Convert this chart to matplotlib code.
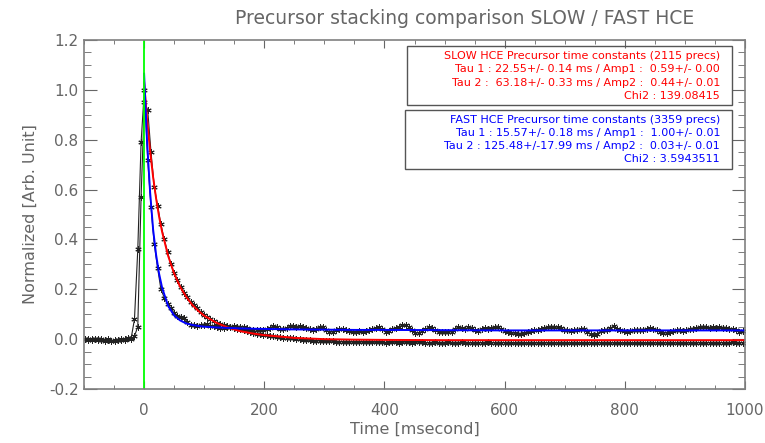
import numpy as np
import matplotlib
matplotlib.use('Agg')
import matplotlib.pyplot as plt
from matplotlib.ticker import MultipleLocator, FormatStrFormatter
from matplotlib.patches import Rectangle

# stacked precursor curves, sampled every t_step ms from t_first
t_first = -98.5
t_step = 5.5

fast_data = [
	0.002, 0.0, -0.003, 0.001, 0.0, -0.004, -0.002, 0.001, -0.006, -0.008,
	-0.004, 0.0, -0.002, 0.003, 0.004, 0.08, 0.36, 0.79, 1.0, 0.72,
	0.53, 0.38, 0.285, 0.20, 0.167, 0.14, 0.123, 0.105, 0.093, 0.088,
	0.085, 0.068, 0.057, 0.055, 0.053, 0.055, 0.058, 0.06, 0.054, 0.052,
	0.048, 0.045, 0.044, 0.048, 0.05, 0.052, 0.05, 0.048, 0.05, 0.045,
	0.038, 0.036, 0.038, 0.036, 0.036, 0.04, 0.046, 0.052, 0.047, 0.04,
	0.042, 0.045, 0.052, 0.053, 0.05, 0.052, 0.05, 0.044, 0.04, 0.035,
	0.042, 0.05, 0.048, 0.036, 0.028, 0.03, 0.036, 0.04, 0.04, 0.036,
	0.033, 0.03, 0.03, 0.032, 0.03, 0.031, 0.036, 0.04, 0.045, 0.047,
	0.04, 0.03, 0.034, 0.04, 0.045, 0.05, 0.056, 0.055, 0.05, 0.036,
	0.026, 0.025, 0.032, 0.04, 0.047, 0.044, 0.035, 0.028, 0.027, 0.029,
	0.028, 0.03, 0.04, 0.05, 0.045, 0.04, 0.047, 0.045, 0.035, 0.033,
	0.04, 0.044, 0.042, 0.046, 0.05, 0.049, 0.04, 0.032, 0.03, 0.026,
	0.023, 0.022, 0.022, 0.023, 0.027, 0.033, 0.037, 0.036, 0.04, 0.045,
	0.048, 0.05, 0.05, 0.047, 0.045, 0.038, 0.035, 0.034, 0.036, 0.038,
	0.04, 0.04, 0.03, 0.02, 0.016, 0.02, 0.032, 0.038, 0.036, 0.045,
	0.052, 0.042, 0.036, 0.034, 0.03, 0.032, 0.035, 0.036, 0.035, 0.038,
	0.042, 0.044, 0.042, 0.035, 0.028, 0.025, 0.025, 0.027, 0.032, 0.036,
	0.035, 0.034, 0.036, 0.04, 0.041, 0.044, 0.047, 0.05, 0.047, 0.046,
	0.048, 0.046, 0.047, 0.045, 0.044, 0.04, 0.04, 0.036, 0.03, 0.032,
]

slow_data = [
	0.001, -0.002, 0.0, 0.002, -0.003, 0.0, -0.006, -0.004, -0.008, -0.005,
	-0.002, -0.005, 0.0, 0.004, 0.002, 0.012, 0.05, 0.57, 0.95, 0.92,
	0.75, 0.61, 0.535, 0.46, 0.40, 0.35, 0.30, 0.265, 0.237, 0.21,
	0.187, 0.168, 0.15, 0.136, 0.123, 0.11, 0.097, 0.088, 0.079, 0.072,
	0.065, 0.06, 0.056, 0.053, 0.05, 0.046, 0.042, 0.04, 0.036, 0.031,
	0.028, 0.026, 0.022, 0.02, 0.017, 0.015, 0.013, 0.012, 0.01, 0.008,
	0.006, 0.005, 0.005, 0.004, 0.002, 0.0, -0.002, -0.004, -0.005, -0.006,
	-0.006, -0.007, -0.008, -0.008, -0.009, -0.008, -0.01, -0.01, -0.011, -0.01,
	-0.011, -0.012, -0.012, -0.011, -0.012, -0.012, -0.013, -0.012, -0.013, -0.012,
	-0.013, -0.014, -0.013, -0.012, -0.013, -0.014, -0.013, -0.012, -0.013, -0.014,
	-0.013, -0.012, -0.013, -0.014, -0.015, -0.014, -0.013, -0.014, -0.015, -0.014,
	-0.013, -0.014, -0.015, -0.014, -0.013, -0.014, -0.015, -0.016, -0.015, -0.014,
	-0.015, -0.014, -0.013, -0.014, -0.015, -0.016, -0.015, -0.014, -0.015, -0.016,
	-0.017, -0.016, -0.015, -0.016, -0.017, -0.016, -0.015, -0.016, -0.017, -0.016,
	-0.015, -0.016, -0.017, -0.016, -0.015, -0.016, -0.017, -0.016, -0.015, -0.016,
	-0.017, -0.016, -0.015, -0.016, -0.017, -0.016, -0.015, -0.016, -0.017, -0.016,
	-0.015, -0.016, -0.017, -0.016, -0.015, -0.016, -0.017, -0.016, -0.015, -0.016,
	-0.017, -0.016, -0.015, -0.016, -0.017, -0.016, -0.015, -0.014, -0.015, -0.016,
	-0.015, -0.014, -0.015, -0.016, -0.015, -0.014, -0.015, -0.016, -0.015, -0.014,
	-0.015, -0.016, -0.015, -0.014, -0.015, -0.014, -0.013, -0.014, -0.015, -0.014,
]

# double exponential fits
fit_t = [0, 5, 10, 15, 20, 25, 30, 40, 50, 60, 70, 80, 90, 100, 120, 140,
	160, 180, 200, 250, 300, 350, 400, 500, 600, 700, 800, 900, 1000]
slow_fit = [1.03, 0.88, 0.755, 0.65, 0.564, 0.491, 0.43, 0.334, 0.263, 0.21,
	0.17, 0.138, 0.114, 0.094, 0.066, 0.046, 0.032, 0.023, 0.016, 0.005,
	0.0, -0.002, -0.003, -0.004, -0.004, -0.004, -0.004, -0.004, -0.004]
fast_fit = [1.065, 0.79, 0.59, 0.44, 0.338, 0.262, 0.206, 0.133, 0.095, 0.075,
	0.063, 0.057, 0.053, 0.05, 0.047, 0.045, 0.043, 0.042, 0.041, 0.039,
	0.038, 0.037, 0.037, 0.036, 0.035, 0.035, 0.035, 0.035, 0.035]

slow_text = [
	'SLOW HCE Precursor time constants (2115 precs)',
	'Tau 1 : 22.55+/- 0.14 ms / Amp1 :  0.59+/- 0.00',
	'Tau 2 :  63.18+/- 0.33 ms / Amp2 :  0.44+/- 0.01',
	'Chi2 : 139.08415',
]
fast_text = [
	'FAST HCE Precursor time constants (3359 precs)',
	'Tau 1 : 15.57+/- 0.18 ms / Amp1 :  1.00+/- 0.01',
	'Tau 2 : 125.48+/-17.99 ms / Amp2 :  0.03+/- 0.01',
	'Chi2 : 3.5943511',
]

grey = '#666666'
t = t_first + t_step*np.arange(len(fast_data))

fig = plt.figure(figsize=(7.65, 4.43), dpi=100)
ax = fig.add_axes([0.1098, 0.1219, 0.8641, 0.7878])

star = (6, 2, 0)
ax.plot(t, fast_data, color='#222222', lw=0.8, marker=star, ms=4.5, mew=0.7)
ax.plot(t, slow_data, color='#222222', lw=0.8, marker=star, ms=4.5, mew=0.7)
ax.plot(fit_t, slow_fit, color='red', lw=1.4)
ax.plot(fit_t, fast_fit, color='blue', lw=1.4)
ax.axvline(0, color='#00ff00', lw=1.3)

ax.set_xlim(-100, 1000)
ax.set_ylim(-0.2, 1.2)
ax.xaxis.set_major_locator(MultipleLocator(200))
ax.xaxis.set_minor_locator(MultipleLocator(50))
ax.yaxis.set_major_locator(MultipleLocator(0.2))
ax.yaxis.set_minor_locator(MultipleLocator(0.05))
ax.yaxis.set_major_formatter(FormatStrFormatter('%.1f'))
ax.tick_params(axis='both', which='both', direction='in', top=True, right=True,
	colors=grey, labelcolor=grey, labelsize=11)
ax.tick_params(axis='x', which='major', length=6, pad=10)
ax.tick_params(axis='x', which='minor', length=3.2)
ax.tick_params(axis='y', which='major', length=9.5, pad=4)
ax.tick_params(axis='y', which='minor', length=5)
for s in ax.spines.values():
	s.set_color('#808080')
	s.set_linewidth(1.2)

ax.set_xlabel('Time [msecond]', fontsize=11.5, color=grey, labelpad=3)
ax.set_ylabel('Normalized [Arb. Unit]', fontsize=11.5, color=grey, labelpad=8)
fig.text(0.608, 0.959, 'Precursor stacking comparison SLOW / FAST HCE',
	ha='center', va='center', fontsize=13.5, color=grey)

# fit summary boxes
for x0, y0, x1, y1 in [(407, 46, 732, 105), (405, 110, 732, 169)]:
	fig.patches.append(Rectangle((x0/765, 1 - y1/443), (x1 - x0)/765, (y1 - y0)/443,
		transform=fig.transFigure, fill=False, ec='#555555', lw=1.0))
for i, line in enumerate(slow_text):
	fig.text(720/765, 1 - (56 + 13.3*i)/443, line, ha='right', va='center',
		fontsize=8, color='red')
for i, line in enumerate(fast_text):
	fig.text(720/765, 1 - (120 + 13.1*i)/443, line, ha='right', va='center',
		fontsize=8, color='blue')

fig.savefig('out.png', dpi=100)
